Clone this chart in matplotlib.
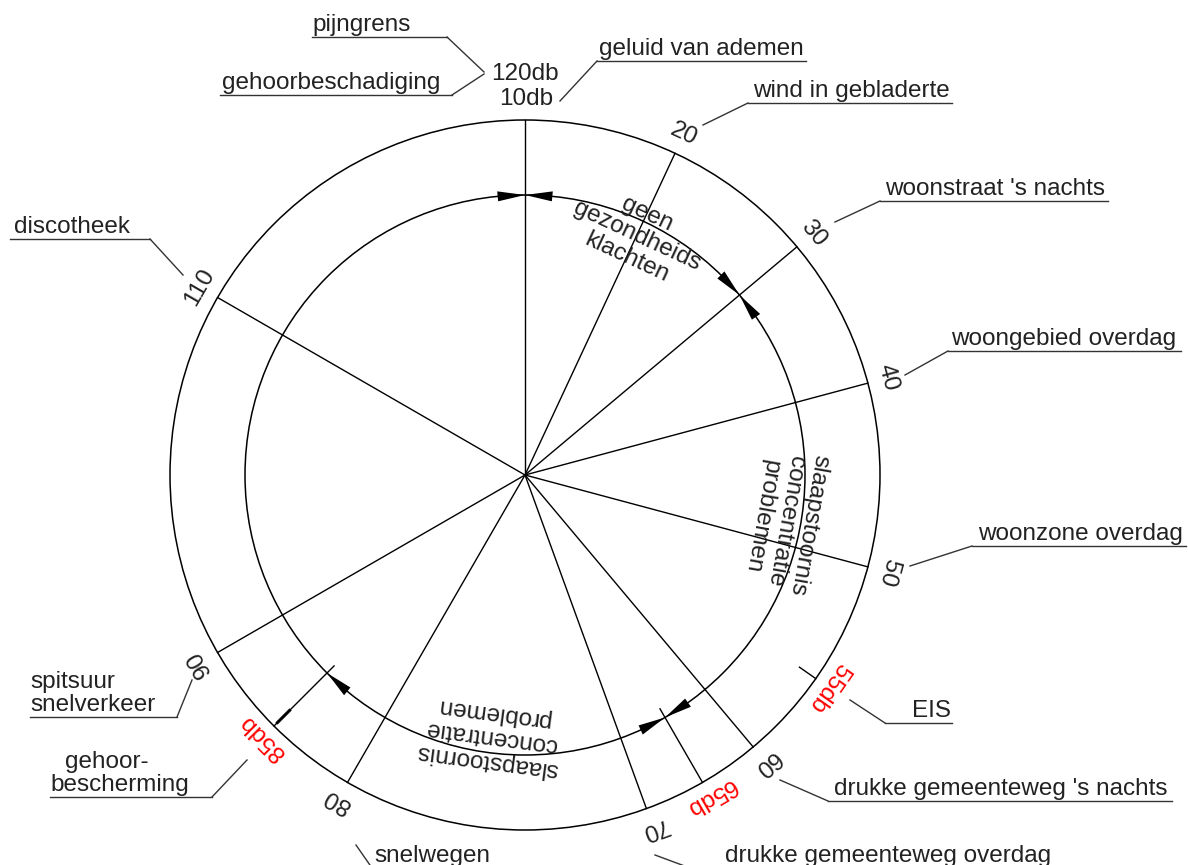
import numpy as np
import matplotlib
matplotlib.use("Agg")
import matplotlib.pyplot as plt
from matplotlib.patches import Circle, Polygon

plt.rcParams['font.family'] = ['Liberation Sans', 'DejaVu Sans']

# scale of the dial: dB value and its clockwise angle from the top
scale_db = [10, 20, 30, 40, 50, 60, 70, 80, 90, 110]
scale_deg = [0, 25, 50, 75, 105, 140, 160, 210, 240, 300]

# red limit values
limit_db = [55, 65, 85]
limit_deg = [125, 150, 225]

# zones on the inner ring (start, end angle) and their text
zone_text = ["geen\ngezondheids\nklachten",
             "slaapstoornis\nconcentratie\nproblemen",
             "slaapstoornis\nconcentratie\nproblemen"]
zone_start = [0, 50, 150]
zone_end = [50, 150, 225]

# outside labels with their underline and leader
src_text = ["pijngrens", "gehoorbeschadiging", "geluid van ademen",
            "wind in gebladerte", "woonstraat 's nachts", "woongebied overdag",
            "woonzone overdag", "EIS", "drukke gemeenteweg 's nachts",
            "drukke gemeenteweg overdag", "snelwegen", "discotheek"]
src_x = [362, 331, 701, 851, 995, 1064, 1080, 932, 1001, 888, 432, 72]
line_y = [37, 95, 61, 103, 201, 351, 546, 723, 801, 868, 868, 239]
line_x0 = [312, 220, 597, 748, 880, 948, 972, 885, 828, 690, 372, 10]
line_x1 = [447, 452, 806, 952, 1108, 1181, 1186, 952, 1172, 1060, 492, 150]
lead_from_x = [447, 452, 597, 748, 880, 948, 972, 885, 828, 690, 372, 150]
lead_to = [(484, 72), (484, 74), (560, 101), (703, 125), (835, 222), (905, 375),
           (910, 566), (850, 700), (780, 780), (655, 855), (356, 845), (183, 275)]

CX, CY = 525, 475
R_OUT, R_IN = 355, 280
FS = 17.5


def pt(deg, r):
    a = np.radians(deg)
    return CX + r * np.sin(a), CY - r * np.cos(a)


fig = plt.figure(figsize=(11.88, 8.65), dpi=100)
ax = fig.add_axes([0, 0, 1, 1])
ax.set_xlim(0, 1188)
ax.set_ylim(865, 0)
ax.axis('off')

ax.add_patch(Circle((CX, CY), R_OUT, fill=False, lw=1.1, color='black'))
ax.add_patch(Circle((CX, CY), R_IN, fill=False, lw=1.1, color='black'))

# spokes and numbers
for db, deg in zip(scale_db, scale_deg):
    x, y = pt(deg, R_OUT)
    ax.plot([CX, x], [CY, y], color='black', lw=1.0)
    if db == 10:
        continue
    tx, ty = pt(deg, 376)
    ax.text(tx, ty, str(db), rotation=-deg, rotation_mode='anchor',
            ha='center', va='center', fontsize=FS, color='#222222')

ax.text(CX, 74, "120db", ha='center', va='center', fontsize=FS, color='#222222')
ax.text(CX + 1, 99, "10db", ha='center', va='center', fontsize=FS, color='#222222')

# red limits
for db, deg in zip(limit_db, limit_deg):
    r0 = 335 if db == 55 else 270
    x0, y0 = pt(deg, r0)
    x1, y1 = pt(deg, R_OUT)
    ax.plot([x0, x1], [y0, y1], color='black', lw=1.0)
    if db == 85:
        xa, ya = pt(deg, 333)
        xb, yb = pt(deg, 350)
        ax.plot([xa, xb], [ya, yb], color='black', lw=2.2)
    tx, ty = pt(deg, 371)
    ax.text(tx, ty, f"{db}db", rotation=-deg, rotation_mode='anchor',
            ha='center', va='center', fontsize=FS, color='red')


# arrowheads on the inner ring
def arrow(deg, side):
    d = 5.6
    tip = pt(deg, R_IN)
    b1 = pt(deg + side * d, R_IN + 5)
    b2 = pt(deg + side * d, R_IN - 5)
    ax.add_patch(Polygon([tip, b1, b2], closed=True, color='black', lw=0))


for a0, a1 in zip(zone_start, zone_end):
    arrow(a0, 1)
    arrow(a1, -1)
arrow(360, -1)

# zone texts
for txt, a0, a1 in zip(zone_text, zone_start, zone_end):
    mid = (a0 + a1) / 2
    tx, ty = pt(mid, 264)
    ax.text(tx, ty, txt, rotation=-mid, rotation_mode='anchor',
            ha='center', va='center', fontsize=FS, color='#222222',
            linespacing=1.12)

# labels with underline and leader
for i, txt in enumerate(src_text):
    ax.text(src_x[i], line_y[i] - 6, txt, ha='center', va='baseline',
            fontsize=FS, color='#222222')
    ax.plot([line_x0[i], line_x1[i]], [line_y[i], line_y[i]], color='#333333', lw=1.0)
    ax.plot([lead_from_x[i], lead_to[i][0]], [line_y[i], lead_to[i][1]],
            color='#333333', lw=1.0)

# two-line labels on the left
ax.text(30, 688, "spitsuur", ha='left', va='baseline', fontsize=FS, color='#222222')
ax.text(30, 711, "snelverkeer", ha='left', va='baseline', fontsize=FS, color='#222222')
ax.plot([30, 177], [717, 717], color='#333333', lw=1.0)
ax.plot([177, 192], [717, 680], color='#333333', lw=1.0)

ax.text(65, 768, "gehoor-", ha='left', va='baseline', fontsize=FS, color='#222222')
ax.text(50, 791, "bescherming", ha='left', va='baseline', fontsize=FS, color='#222222')
ax.plot([50, 212], [797, 797], color='#333333', lw=1.0)
ax.plot([212, 247], [797, 760], color='#333333', lw=1.0)

fig.savefig("out.png", dpi=100)
